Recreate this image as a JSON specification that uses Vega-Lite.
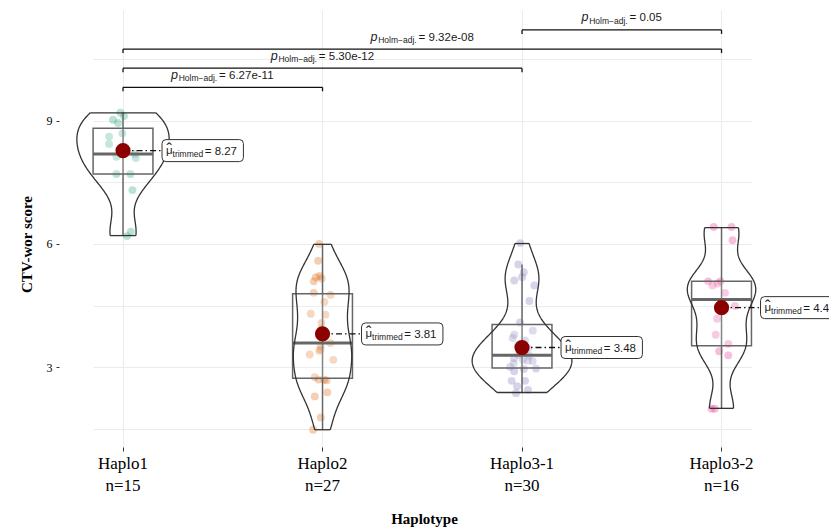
{
  "$schema": "https://vega.github.io/schema/vega-lite/v6.json",
  "width": 770,
  "height": 437,
  "autosize": {"type": "none"},
  "padding": {"left": 59, "top": 10, "right": 0, "bottom": 82},
  "background": "white",
  "config": {"view": {"stroke": null}},
  "datasets": {
    "points": [
      {"group": "Haplo1", "value": 9.19, "jitter": -0.013},
      {"group": "Haplo1", "value": 9.11, "jitter": 0.005},
      {"group": "Haplo1", "value": 9.02, "jitter": -0.05},
      {"group": "Haplo1", "value": 8.94, "jitter": -0.025},
      {"group": "Haplo1", "value": 8.69, "jitter": -0.003},
      {"group": "Haplo1", "value": 8.61, "jitter": -0.07},
      {"group": "Haplo1", "value": 8.43, "jitter": -0.07},
      {"group": "Haplo1", "value": 8.19, "jitter": 0.059},
      {"group": "Haplo1", "value": 8.12, "jitter": -0.033},
      {"group": "Haplo1", "value": 8.09, "jitter": 0.064},
      {"group": "Haplo1", "value": 7.7, "jitter": -0.033},
      {"group": "Haplo1", "value": 7.7, "jitter": 0.037},
      {"group": "Haplo1", "value": 7.31, "jitter": 0.047},
      {"group": "Haplo1", "value": 6.3, "jitter": 0.039},
      {"group": "Haplo1", "value": 6.19, "jitter": 0.02},
      {"group": "Haplo2", "value": 6.0, "jitter": -0.017},
      {"group": "Haplo2", "value": 5.59, "jitter": -0.022},
      {"group": "Haplo2", "value": 5.22, "jitter": -0.014},
      {"group": "Haplo2", "value": 5.19, "jitter": -0.034},
      {"group": "Haplo2", "value": 5.16, "jitter": -0.005},
      {"group": "Haplo2", "value": 5.09, "jitter": -0.044},
      {"group": "Haplo2", "value": 4.81, "jitter": -0.044},
      {"group": "Haplo2", "value": 4.76, "jitter": 0.04},
      {"group": "Haplo2", "value": 4.59, "jitter": 0.009},
      {"group": "Haplo2", "value": 4.3, "jitter": -0.059},
      {"group": "Haplo2", "value": 4.28, "jitter": 0.015},
      {"group": "Haplo2", "value": 4.08, "jitter": -0.005},
      {"group": "Haplo2", "value": 3.93, "jitter": -0.008},
      {"group": "Haplo2", "value": 3.59, "jitter": 0.04},
      {"group": "Haplo2", "value": 3.51, "jitter": -0.009},
      {"group": "Haplo2", "value": 3.43, "jitter": -0.01},
      {"group": "Haplo2", "value": 3.4, "jitter": -0.017},
      {"group": "Haplo2", "value": 3.31, "jitter": -0.064},
      {"group": "Haplo2", "value": 3.18, "jitter": 0.054},
      {"group": "Haplo2", "value": 2.76, "jitter": -0.039},
      {"group": "Haplo2", "value": 2.7, "jitter": 0.009},
      {"group": "Haplo2", "value": 2.7, "jitter": -0.02},
      {"group": "Haplo2", "value": 2.68, "jitter": 0.02},
      {"group": "Haplo2", "value": 2.39, "jitter": 0.024},
      {"group": "Haplo2", "value": 2.29, "jitter": -0.039},
      {"group": "Haplo2", "value": 1.78, "jitter": -0.009},
      {"group": "Haplo2", "value": 1.48, "jitter": -0.047},
      {"group": "Haplo3-1", "value": 6.02, "jitter": -0.009},
      {"group": "Haplo3-1", "value": 5.5, "jitter": -0.019},
      {"group": "Haplo3-1", "value": 5.31, "jitter": 0.009},
      {"group": "Haplo3-1", "value": 5.19, "jitter": 0.0},
      {"group": "Haplo3-1", "value": 5.11, "jitter": -0.039},
      {"group": "Haplo3-1", "value": 4.99, "jitter": 0.062},
      {"group": "Haplo3-1", "value": 4.61, "jitter": 0.037},
      {"group": "Haplo3-1", "value": 4.09, "jitter": -0.01},
      {"group": "Haplo3-1", "value": 3.89, "jitter": 0.054},
      {"group": "Haplo3-1", "value": 3.79, "jitter": -0.039},
      {"group": "Haplo3-1", "value": 3.71, "jitter": -0.047},
      {"group": "Haplo3-1", "value": 3.65, "jitter": 0.015},
      {"group": "Haplo3-1", "value": 3.55, "jitter": -0.02},
      {"group": "Haplo3-1", "value": 3.45, "jitter": 0.03},
      {"group": "Haplo3-1", "value": 3.3, "jitter": -0.015},
      {"group": "Haplo3-1", "value": 3.28, "jitter": 0.035},
      {"group": "Haplo3-1", "value": 3.22, "jitter": -0.04},
      {"group": "Haplo3-1", "value": 3.18, "jitter": 0.004},
      {"group": "Haplo3-1", "value": 3.16, "jitter": 0.029},
      {"group": "Haplo3-1", "value": 3.15, "jitter": 0.054},
      {"group": "Haplo3-1", "value": 3.1, "jitter": -0.042},
      {"group": "Haplo3-1", "value": 3.01, "jitter": -0.06},
      {"group": "Haplo3-1", "value": 2.97, "jitter": 0.07},
      {"group": "Haplo3-1", "value": 2.96, "jitter": 0.009},
      {"group": "Haplo3-1", "value": 2.9, "jitter": -0.039},
      {"group": "Haplo3-1", "value": 2.67, "jitter": -0.052},
      {"group": "Haplo3-1", "value": 2.67, "jitter": 0.015},
      {"group": "Haplo3-1", "value": 2.54, "jitter": -0.025},
      {"group": "Haplo3-1", "value": 2.45, "jitter": 0.03},
      {"group": "Haplo3-1", "value": 2.37, "jitter": -0.03},
      {"group": "Haplo3-2", "value": 6.41, "jitter": -0.039},
      {"group": "Haplo3-2", "value": 6.41, "jitter": 0.05},
      {"group": "Haplo3-2", "value": 6.09, "jitter": 0.055},
      {"group": "Haplo3-2", "value": 5.09, "jitter": -0.067},
      {"group": "Haplo3-2", "value": 5.09, "jitter": -0.005},
      {"group": "Haplo3-2", "value": 5.04, "jitter": -0.02},
      {"group": "Haplo3-2", "value": 4.99, "jitter": -0.045},
      {"group": "Haplo3-2", "value": 4.81, "jitter": 0.017},
      {"group": "Haplo3-2", "value": 4.49, "jitter": 0.067},
      {"group": "Haplo3-2", "value": 4.18, "jitter": -0.022},
      {"group": "Haplo3-2", "value": 3.79, "jitter": -0.029},
      {"group": "Haplo3-2", "value": 3.57, "jitter": 0.034},
      {"group": "Haplo3-2", "value": 3.39, "jitter": -0.012},
      {"group": "Haplo3-2", "value": 3.29, "jitter": 0.034},
      {"group": "Haplo3-2", "value": 1.99, "jitter": -0.05},
      {"group": "Haplo3-2", "value": 1.99, "jitter": -0.034}
    ],
    "means": [
      {"group": "Haplo1", "mean": 8.27},
      {"group": "Haplo2", "mean": 3.81},
      {"group": "Haplo3-1", "mean": 3.48},
      {"group": "Haplo3-2", "mean": 4.45}
    ],
    "brackets": [
      {"g1": "Haplo1", "g2": "Haplo2", "y": 9.81, "p": "6.27e-11"},
      {"g1": "Haplo1", "g2": "Haplo3-1", "y": 10.275, "p": "5.30e-12"},
      {"g1": "Haplo1", "g2": "Haplo3-2", "y": 10.74, "p": "9.32e-08"},
      {"g1": "Haplo3-1", "g2": "Haplo3-2", "y": 11.205, "p": "0.05"}
    ]
  },
  "layer": [
    {
      "data": {"name": "points"},
      "mark": {"type": "circle", "size": 62, "opacity": 0.3},
      "encoding": {
        "x": {
          "field": "group", "type": "nominal",
          "scale": {"domain": ["Haplo1", "Haplo2", "Haplo3-1", "Haplo3-2"], "range": [34.1, 692.45], "paddingInner": 0.7, "paddingOuter": 0},
          "axis": {
            "title": "Haplotype",
            "labelExpr": "[datum.label, {'Haplo1': 'n=15', 'Haplo2': 'n=27', 'Haplo3-1': 'n=30', 'Haplo3-2': 'n=16'}[datum.label]]",
            "labelAngle": 0, "labelFont": "Liberation Serif", "labelFontSize": 17, "labelLineHeight": 22,
            "labelColor": "#000", "labelPadding": 4, "tickSize": 4, "tickColor": "#333", "domain": false,
            "grid": true, "gridColor": "#EBEBEB", "gridWidth": 1, "bandPosition": 0.5,
            "titleFont": "Liberation Serif", "titleFontSize": 15, "titleFontWeight": "bold", "titleColor": "#000",
            "titleX": 365, "titleY": 71, "titleBaseline": "middle"
          }
        },
        "xOffset": {"field": "jitter", "type": "quantitative", "scale": {"domain": [-0.5, 0.5], "range": [-69.825, 129.675]}},
        "y": {
          "field": "value", "type": "quantitative",
          "scale": {"domain": [1.06, 11.69], "nice": false, "zero": false},
          "axis": {
            "title": "CTV-wor score",
            "values": [1.5, 3, 4.5, 6, 7.5, 9, 10.5],
            "labelExpr": "datum.value % 3 === 0 ? datum.label : ''",
            "tickOpacity": {"condition": {"test": "datum.value % 3 !== 0", "value": 0}, "value": 1},
            "domain": false, "grid": true, "gridColor": "#EBEBEB", "gridWidth": 1,
            "tickSize": 3, "tickColor": "#333",
            "labelFont": "Liberation Serif", "labelFontSize": 12, "labelColor": "#000", "labelPadding": 4,
            "titleFont": "Liberation Serif", "titleFontSize": 15, "titleFontWeight": "bold", "titleColor": "#000",
            "titleX": -33, "titleY": 234, "titleBaseline": "middle"
          }
        },
        "color": {
          "field": "group", "type": "nominal",
          "scale": {"domain": ["Haplo1", "Haplo2", "Haplo3-1", "Haplo3-2"], "range": ["#1B9E77", "#D95F02", "#7570B3", "#E7298A"]},
          "legend": null
        }
      }
    },
    {
      "data": {"name": "points"},
      "transform": [
        {"joinaggregate": [{"op": "q1", "field": "value", "as": "q1"}, {"op": "q3", "field": "value", "as": "q3"}], "groupby": ["group"]},
        {"filter": "datum.value >= datum.q1 - 1.5 * (datum.q3 - datum.q1) && datum.value <= datum.q3 + 1.5 * (datum.q3 - datum.q1)"}
      ],
      "mark": {"type": "rule", "color": "#666", "strokeWidth": 1.5},
      "encoding": {
        "x": {"field": "group", "type": "nominal"},
        "y": {"aggregate": "min", "field": "value", "type": "quantitative"},
        "y2": {"aggregate": "max", "field": "value"}
      }
    },
    {
      "data": {"name": "points"},
      "mark": {"type": "bar", "fill": "white", "fillOpacity": 0.2, "stroke": "#666", "strokeWidth": 1.5},
      "encoding": {
        "x": {"field": "group", "type": "nominal"},
        "y": {"aggregate": "q1", "field": "value", "type": "quantitative"},
        "y2": {"aggregate": "q3", "field": "value"}
      }
    },
    {
      "data": {"name": "points"},
      "mark": {"type": "tick", "color": "#666", "thickness": 3, "size": 60, "opacity": 1},
      "encoding": {
        "x": {"field": "group", "type": "nominal"},
        "y": {"aggregate": "median", "field": "value", "type": "quantitative"}
      }
    },
    {
      "data": {"name": "points"},
      "transform": [
        {"joinaggregate": [{"op": "min", "field": "value", "as": "dmin"}, {"op": "max", "field": "value", "as": "dmax"}], "groupby": ["group"]},
        {"density": "value", "groupby": ["group", "dmin", "dmax"], "bandwidth": 0.45, "steps": 400, "as": ["value", "density"]},
        {"filter": "datum.value >= datum.dmin && datum.value <= datum.dmax"}
      ],
      "mark": {"type": "line", "color": "#333", "strokeWidth": 1.3},
      "encoding": {
        "x": {"field": "group", "type": "nominal"},
        "xOffset": {"field": "density", "type": "quantitative", "scale": {"range": [29.925, 79.8], "zero": true, "nice": false}},
        "y": {"field": "value", "type": "quantitative"},
        "detail": {"field": "group"},
        "order": {"field": "value", "type": "quantitative"}
      }
    },
    {
      "data": {"name": "points"},
      "transform": [
        {"joinaggregate": [{"op": "min", "field": "value", "as": "dmin"}, {"op": "max", "field": "value", "as": "dmax"}], "groupby": ["group"]},
        {"density": "value", "groupby": ["group", "dmin", "dmax"], "bandwidth": 0.45, "steps": 400, "as": ["value", "density"]},
        {"filter": "datum.value >= datum.dmin && datum.value <= datum.dmax"}
      ],
      "mark": {"type": "line", "color": "#333", "strokeWidth": 1.3},
      "encoding": {
        "x": {"field": "group", "type": "nominal"},
        "xOffset": {"field": "density", "type": "quantitative", "scale": {"range": [29.925, -19.95], "zero": true, "nice": false}},
        "y": {"field": "value", "type": "quantitative"},
        "detail": {"field": "group"},
        "order": {"field": "value", "type": "quantitative"}
      }
    },
    {
      "data": {"name": "points"},
      "transform": [
        {"joinaggregate": [{"op": "min", "field": "value", "as": "dmin"}, {"op": "max", "field": "value", "as": "dmax"}], "groupby": ["group"]},
        {"density": "value", "groupby": ["group", "dmin", "dmax"], "bandwidth": 0.45, "steps": 400, "as": ["value", "density"]},
        {"filter": "datum.value >= datum.dmin && datum.value <= datum.dmax"},
        {"joinaggregate": [{"op": "min", "field": "value", "as": "vmin"}, {"op": "max", "field": "value", "as": "vmax"}], "groupby": ["group"]}
      ],
      "mark": {"type": "tick", "color": "#333", "thickness": 1.3},
      "encoding": {
        "x": {"field": "group", "type": "nominal"},
        "y": {"field": "value", "type": "quantitative"},
        "size": {"field": "density", "type": "quantitative", "scale": {"range": [0, 99.75], "zero": true, "nice": false}, "legend": null},
        "opacity": {"condition": {"test": "datum.value <= datum.vmin || datum.value >= datum.vmax", "value": 1}, "value": 0}
      }
    },
    {
      "data": {"name": "means"},
      "mark": {"type": "rule", "color": "#111", "strokeWidth": 1.3, "strokeDash": [6, 3, 1.5, 3], "x2Offset": 40},
      "encoding": {
        "x": {"field": "group", "type": "nominal"},
        "x2": {"field": "group"},
        "y": {"field": "mean", "type": "quantitative"}
      }
    },
    {
      "data": {"name": "means"},
      "mark": {"type": "point", "filled": true, "color": "#8B0000", "size": 230, "opacity": 1},
      "encoding": {
        "x": {"field": "group", "type": "nominal"},
        "y": {"field": "mean", "type": "quantitative"}
      }
    },
    {
      "data": {"name": "means"},
      "mark": {"type": "point", "shape": "M1.075,-0.275 H2.91 Q3.01,-0.275 3.01,-0.175 V0.175 Q3.01,0.275 2.91,0.275 H1.075 Q0.975,0.275 0.975,0.175 V-0.175 Q0.975,-0.275 1.075,-0.275 Z", "size": 6400, "filled": true, "fill": "white", "stroke": "#333", "strokeWidth": 1, "opacity": 1},
      "encoding": {
        "x": {"field": "group", "type": "nominal"},
        "y": {"field": "mean", "type": "quantitative"}
      }
    },
    {
      "data": {"name": "means"},
      "mark": {"type": "text", "text": "μ", "align": "left", "baseline": "alphabetic", "dx": 43, "dy": 3.5, "font": "Liberation Sans", "fontSize": 11.5, "color": "#1a1a1a"},
      "encoding": {
        "x": {"field": "group", "type": "nominal"},
        "y": {"field": "mean", "type": "quantitative"}
      }
    },
    {
      "data": {"name": "means"},
      "mark": {"type": "text", "text": "ˆ", "align": "left", "baseline": "alphabetic", "dx": 43.4, "dy": 4, "font": "Liberation Sans", "fontSize": 16, "color": "#1a1a1a"},
      "encoding": {
        "x": {"field": "group", "type": "nominal"},
        "y": {"field": "mean", "type": "quantitative"}
      }
    },
    {
      "data": {"name": "means"},
      "mark": {"type": "text", "text": "trimmed", "align": "left", "baseline": "alphabetic", "dx": 49.5, "dy": 6.5, "font": "Liberation Sans", "fontSize": 8.5, "color": "#1a1a1a"},
      "encoding": {
        "x": {"field": "group", "type": "nominal"},
        "y": {"field": "mean", "type": "quantitative"}
      }
    },
    {
      "data": {"name": "means"},
      "mark": {"type": "text", "text": "=", "align": "left", "baseline": "alphabetic", "dx": 81.7, "dy": 4.3, "font": "Liberation Sans", "fontSize": 11.5, "color": "#1a1a1a"},
      "encoding": {
        "x": {"field": "group", "type": "nominal"},
        "y": {"field": "mean", "type": "quantitative"}
      }
    },
    {
      "data": {"name": "means"},
      "mark": {"type": "text", "align": "left", "baseline": "alphabetic", "dx": 91.6, "dy": 4.3, "font": "Liberation Sans", "fontSize": 11.5, "color": "#1a1a1a"},
      "encoding": {
        "x": {"field": "group", "type": "nominal"},
        "y": {"field": "mean", "type": "quantitative"},
        "text": {"field": "mean", "type": "quantitative", "format": ".2f"}
      }
    },
    {
      "data": {"name": "brackets"},
      "mark": {"type": "rule", "color": "#111", "strokeWidth": 1.3},
      "encoding": {
        "x": {"field": "g1", "type": "nominal"},
        "x2": {"field": "g2"},
        "y": {"field": "y", "type": "quantitative"}
      }
    },
    {
      "data": {"name": "brackets"},
      "mark": {"type": "rule", "color": "#111", "strokeWidth": 1.3, "y2Offset": 4},
      "encoding": {
        "x": {"field": "g1", "type": "nominal"},
        "y": {"field": "y", "type": "quantitative"},
        "y2": {"field": "y"}
      }
    },
    {
      "data": {"name": "brackets"},
      "mark": {"type": "rule", "color": "#111", "strokeWidth": 1.3, "y2Offset": 4},
      "encoding": {
        "x": {"field": "g2", "type": "nominal"},
        "y": {"field": "y", "type": "quantitative"},
        "y2": {"field": "y"}
      }
    },
    {
      "data": {"name": "brackets"},
      "mark": {"type": "text", "text": "p", "align": "left", "baseline": "alphabetic", "fontStyle": "italic", "font": "Liberation Sans", "fontSize": 12.5, "color": "#1a1a1a", "dy": -8.5,
        "dx": {"expr": "(scale('x', datum.g2) - scale('x', datum.g1)) / 2 - 28.67 - 2.875 * length(datum.p)"}},
      "encoding": {
        "x": {"field": "g1", "type": "nominal"},
        "y": {"field": "y", "type": "quantitative"}
      }
    },
    {
      "data": {"name": "brackets"},
      "mark": {"type": "text", "text": "Holm−adj.", "align": "left", "baseline": "alphabetic", "font": "Liberation Sans", "fontSize": 8.5, "color": "#1a1a1a", "dy": -6,
        "dx": {"expr": "(scale('x', datum.g2) - scale('x', datum.g1)) / 2 - 28.67 - 2.875 * length(datum.p) + 7.6"}},
      "encoding": {
        "x": {"field": "g1", "type": "nominal"},
        "y": {"field": "y", "type": "quantitative"}
      }
    },
    {
      "data": {"name": "brackets"},
      "mark": {"type": "text", "text": "=", "align": "left", "baseline": "alphabetic", "font": "Liberation Sans", "fontSize": 11.5, "color": "#1a1a1a", "dy": -8.5,
        "dx": {"expr": "(scale('x', datum.g2) - scale('x', datum.g1)) / 2 - 28.67 - 2.875 * length(datum.p) + 48"}},
      "encoding": {
        "x": {"field": "g1", "type": "nominal"},
        "y": {"field": "y", "type": "quantitative"}
      }
    },
    {
      "data": {"name": "brackets"},
      "mark": {"type": "text", "align": "left", "baseline": "alphabetic", "font": "Liberation Sans", "fontSize": 11.5, "color": "#1a1a1a", "dy": -8.5,
        "dx": {"expr": "(scale('x', datum.g2) - scale('x', datum.g1)) / 2 - 28.67 - 2.875 * length(datum.p) + 57.9"}},
      "encoding": {
        "x": {"field": "g1", "type": "nominal"},
        "y": {"field": "y", "type": "quantitative"},
        "text": {"field": "p", "type": "nominal"}
      }
    }
  ],
  "resolve": {"scale": {"xOffset": "independent"}}
}
